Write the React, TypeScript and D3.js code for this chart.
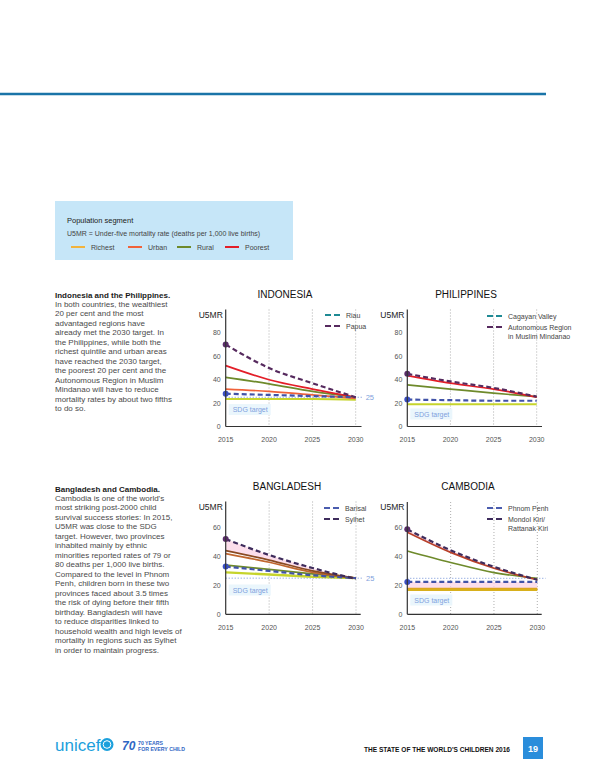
import * as React from 'react';
import * as d3 from 'd3';

const years = [2015, 2020, 2025, 2030];
const sdgTarget = 25;

// Indonesia
const idnPoorest = [52, 40, 32, 25];
const idnRural = [42, 36.5, 30, 25];
const idnUrban = [32, 30, 27, 24];
const idnRichest = [23.5, 23.5, 23.5, 23];
const idnRiau = [28, 27, 26, 25];
const idnPapua = [70, 50, 37, 25];

// Philippines
const phlPoorest = [43.5, 37, 32, 25];
const phlRural = [35.5, 32, 28.5, 25.5];
const phlRichest = [19, 19, 19, 19];
const phlCagayan = [23, 22.5, 22, 22];
const phlArmm = [45, 38.5, 33, 25.5];

// Bangladesh
const bgdPoorest = [44, 37.5, 30, 25];
const bgdUrban = [42, 36, 29, 25];
const bgdRural = [34, 31, 28, 25];
const bgdRichest = [29, 27.5, 26, 25];
const bgdBarisal = [33, 30, 27, 25];
const bgdSylhet = [52, 41, 32, 24.5];

// Cambodia
const khmPoorest = [57, 43, 32, 24];
const khmUrban = [17.6, 17.6, 17.6, 17.6];
const khmRural = [44, 36, 29, 25];
const khmRichest = [17, 17, 17, 17];
const khmPhnomPenh = [22.5, 22.5, 22.5, 22.5];
const khmMondolKiri = [59, 44.5, 33, 24];

const segmentNames = ['Richest', 'Urban', 'Rural', 'Poorest'];

const introIdnPhl = [
  'In both countries, the wealthiest',
  '20 per cent and the most',
  'advantaged regions have',
  'already met the 2030 target. In',
  'the Philippines, while both the',
  'richest quintile and urban areas',
  'have reached the 2030 target,',
  'the poorest 20 per cent and the',
  'Autonomous Region in Muslim',
  'Mindanao will have to reduce',
  'mortality rates by about two fifths',
  'to do so.',
];

const introBgdKhm = [
  "Cambodia is one of the world's",
  'most striking post-2000 child',
  'survival success stories: In 2015,',
  'U5MR was close to the SDG',
  'target. However, two provinces',
  'inhabited mainly by ethnic',
  'minorities reported rates of 79 or',
  '80 deaths per 1,000 live births.',
  'Compared to the level in Phnom',
  'Penh, children born in these two',
  'provinces faced about 3.5 times',
  'the risk of dying before their fifth',
  'birthday. Bangladesh will have',
  'to reduce disparities linked to',
  'household wealth and high levels of',
  'mortality in regions such as Sylhet',
  'in order to maintain progress.',
];

const FONT = "'Liberation Sans', Arial, sans-serif";

const colors = {
  richest: '#c6d42c',
  urban: '#f0623a',
  rural: '#6e8a2b',
  poorest: '#e31e28',
  regionA: '#4153a8',
  regionB: '#562a5e',
};
const legendColors = ['#f2b33d', '#f0623a', '#6e8a2b', '#e31e28'];

interface Series {
  values: number[];
  color: string;
  dashed?: boolean;
  width?: number;
  dot?: boolean;
}

interface Panel {
  title: string;
  titleX: number;
  titleY: number;
  left: number;
  right: number;
  axisEnd: number;
  bottom: number;
  top: number;
  yMax: number;
  yTicks: number[];
  series: Series[];
  band?: [number[], number[]][];
  legendX: number;
  legendY: number;
  legend: { lines: string[]; color: string }[];
  sdgLabelY: number;
  sdgLine: boolean;
  sdgValueLabel: boolean;
}

const panels: Panel[] = [
  {
    title: 'INDONESIA',
    titleX: 285,
    titleY: 298,
    left: 225.7,
    right: 355.7,
    axisEnd: 361.5,
    bottom: 426.5,
    top: 309.5,
    yMax: 100,
    yTicks: [0, 20, 40, 60, 80],
    series: [
      { values: idnRichest, color: colors.richest, width: 2.2 },
      { values: idnUrban, color: colors.urban },
      { values: idnRural, color: colors.rural },
      { values: idnPoorest, color: colors.poorest },
      { values: idnRiau, color: colors.regionA, dashed: true, dot: true },
      { values: idnPapua, color: colors.regionB, dashed: true, dot: true },
    ],
    legendX: 325,
    legendY: 315,
    legend: [
      { lines: ['Riau'], color: '#1f8a94' },
      { lines: ['Papua'], color: colors.regionB },
    ],
    sdgLabelY: 412,
    sdgLine: true,
    sdgValueLabel: true,
  },
  {
    title: 'PHILIPPINES',
    titleX: 466,
    titleY: 298,
    left: 407.3,
    right: 536.7,
    axisEnd: 542,
    bottom: 426.5,
    top: 309.5,
    yMax: 100,
    yTicks: [0, 20, 40, 60, 80],
    series: [
      { values: phlRichest, color: colors.richest, width: 2.2 },
      { values: phlRural, color: colors.rural },
      { values: phlPoorest, color: colors.poorest },
      { values: phlCagayan, color: colors.regionA, dashed: true, dot: true },
      { values: phlArmm, color: colors.regionB, dashed: true, dot: true },
    ],
    legendX: 487,
    legendY: 316,
    legend: [
      { lines: ['Cagayan Valley'], color: '#1f8a94' },
      { lines: ['Autonomous Region', 'in Muslim Mindanao'], color: colors.regionB },
    ],
    sdgLabelY: 416.5,
    sdgLine: false,
    sdgValueLabel: false,
  },
  {
    title: 'BANGLADESH',
    titleX: 287,
    titleY: 490,
    left: 225.7,
    right: 356,
    axisEnd: 360.7,
    bottom: 614.3,
    top: 501.5,
    yMax: 78,
    yTicks: [0, 20, 40, 60],
    series: [
      { values: bgdRichest, color: colors.richest, width: 2.4 },
      { values: bgdRural, color: colors.rural },
      { values: bgdUrban, color: '#c0662e' },
      { values: bgdPoorest, color: '#8a4a22' },
      { values: bgdBarisal, color: colors.regionA, dashed: true, dot: true },
      { values: bgdSylhet, color: '#3e2c5c', dashed: true, dot: true },
    ],
    band: [[bgdSylhet, bgdPoorest]],
    legendX: 324,
    legendY: 508,
    legend: [
      { lines: ['Barisal'], color: '#4a5cae' },
      { lines: ['Sylhet'], color: '#3e2c5c' },
    ],
    sdgLabelY: 592.5,
    sdgLine: true,
    sdgValueLabel: true,
  },
  {
    title: 'CAMBODIA',
    titleX: 468,
    titleY: 490,
    left: 407.3,
    right: 537.3,
    axisEnd: 541.7,
    bottom: 614.3,
    top: 502,
    yMax: 78,
    yTicks: [0, 20, 40, 60],
    series: [
      { values: khmUrban, color: '#e09a1e', width: 2.6 },
      { values: khmRichest, color: '#d8b01c', width: 2.4 },
      { values: khmRural, color: colors.rural },
      { values: khmPoorest, color: '#b8402a' },
      { values: khmPhnomPenh, color: colors.regionA, dashed: true, dot: true },
      { values: khmMondolKiri, color: '#3e2c5c', dashed: true, dot: true },
    ],
    band: [
      [khmMondolKiri, khmPoorest],
      [khmPhnomPenh, khmUrban],
    ],
    legendX: 487,
    legendY: 508,
    legend: [
      { lines: ['Phnom Penh'], color: '#4a5cae' },
      { lines: ['Mondol Kiri/', 'Rattanak Kiri'], color: '#3e2c5c' },
    ],
    sdgLabelY: 602.5,
    sdgLine: true,
    sdgValueLabel: false,
  },
];

const App = () => {
  const ref = React.useRef<SVGSVGElement>(null);

  React.useEffect(() => {
    draw();
  }, []);

  const draw = () => {
    const svg = d3.select(ref.current);
    svg.selectAll('*').remove();
    svg.attr('font-family', FONT);

    svg.append('rect').attr('width', 600).attr('height', 776).attr('fill', '#fff');

    // top rule
    svg
      .append('line')
      .attr('x1', 0)
      .attr('x2', 546)
      .attr('y1', 94)
      .attr('y2', 94)
      .attr('stroke', '#1a74a8')
      .attr('stroke-width', 2.5);

    // key box
    const key = svg.append('g');
    key
      .append('rect')
      .attr('x', 55)
      .attr('y', 201)
      .attr('width', 238)
      .attr('height', 59)
      .attr('fill', '#c6e6f8');
    key
      .append('text')
      .attr('x', 67)
      .attr('y', 223)
      .attr('font-size', 7.5)
      .attr('fill', '#222')
      .text('Population segment');
    key
      .append('text')
      .attr('x', 67)
      .attr('y', 235.5)
      .attr('font-size', 7)
      .attr('fill', '#444')
      .text('U5MR = Under-five mortality rate (deaths per 1,000 live births)');
    const keyX = [71, 128, 177, 225];
    segmentNames.forEach((name, i) => {
      key
        .append('line')
        .attr('x1', keyX[i])
        .attr('x2', keyX[i] + 14)
        .attr('y1', 247)
        .attr('y2', 247)
        .attr('stroke', legendColors[i])
        .attr('stroke-width', 2);
      key
        .append('text')
        .attr('x', keyX[i] + 20)
        .attr('y', 249.5)
        .attr('font-size', 7)
        .attr('fill', '#444')
        .text(name);
    });

    // body copy
    const writeBlock = (title: string, lines: string[], y0: number) => {
      svg
        .append('text')
        .attr('x', 55)
        .attr('y', y0)
        .attr('font-size', 8)
        .attr('font-weight', 'bold')
        .attr('fill', '#1a1a1a')
        .text(title);
      lines.forEach((l, i) => {
        svg
          .append('text')
          .attr('x', 55)
          .attr('y', y0 + 9 + i * 9.5)
          .attr('font-size', 8)
          .attr('fill', '#4a4a4a')
          .text(l);
      });
    };
    writeBlock('Indonesia and the Philippines.', introIdnPhl, 297.5);
    writeBlock('Bangladesh and Cambodia.', introBgdKhm, 491.5);

    panels.forEach((p) => drawPanel(svg, p));

    // footer
    const foot = svg.append('g');
    foot
      .append('text')
      .attr('x', 55)
      .attr('y', 751)
      .attr('font-size', 17)
      .attr('fill', '#1ca0dc')
      .text('unicef');
    foot
      .append('circle')
      .attr('cx', 107)
      .attr('cy', 744.5)
      .attr('r', 6.5)
      .attr('fill', '#1ca0dc');
    foot
      .append('circle')
      .attr('cx', 107)
      .attr('cy', 744.5)
      .attr('r', 3.8)
      .attr('fill', 'none')
      .attr('stroke', '#fff')
      .attr('stroke-width', 1);
    foot
      .append('text')
      .attr('x', 122)
      .attr('y', 750)
      .attr('font-size', 12)
      .attr('font-weight', 'bold')
      .attr('font-style', 'italic')
      .attr('fill', '#2f66c4')
      .text('70');
    foot
      .append('text')
      .attr('x', 138)
      .attr('y', 745)
      .attr('font-size', 5.2)
      .attr('font-weight', 'bold')
      .attr('fill', '#2f66c4')
      .text('70 YEARS');
    foot
      .append('text')
      .attr('x', 138)
      .attr('y', 750.5)
      .attr('font-size', 5.2)
      .attr('font-weight', 'bold')
      .attr('fill', '#2f66c4')
      .text('FOR EVERY CHILD');
    foot
      .append('text')
      .attr('x', 364)
      .attr('y', 751.5)
      .attr('font-size', 7)
      .attr('font-weight', 'bold')
      .attr('fill', '#111')
      .attr('textLength', 146)
      .attr('lengthAdjust', 'spacingAndGlyphs')
      .text("THE STATE OF THE WORLD'S CHILDREN 2016");
    foot
      .append('rect')
      .attr('x', 523)
      .attr('y', 737)
      .attr('width', 20)
      .attr('height', 22)
      .attr('fill', '#2a8ddb');
    foot
      .append('text')
      .attr('x', 533)
      .attr('y', 751.5)
      .attr('text-anchor', 'middle')
      .attr('font-size', 9)
      .attr('font-weight', 'bold')
      .attr('fill', '#fff')
      .text('19');
  };

  const drawPanel = (svg: d3.Selection<SVGSVGElement | null, unknown, null, undefined>, p: Panel) => {
    const g = svg.append('g');
    const x = d3.scaleLinear().domain([2015, 2030]).range([p.left, p.right]);
    const y = d3.scaleLinear().domain([0, p.yMax]).range([p.bottom, p.top]);

    g.append('text')
      .attr('x', p.titleX)
      .attr('y', p.titleY)
      .attr('text-anchor', 'middle')
      .attr('font-size', 10)
      .attr('fill', '#111')
      .text(p.title);

    g.append('text')
      .attr('x', p.left - 27)
      .attr('y', p.top + 8)
      .attr('font-size', 8.5)
      .attr('fill', '#222')
      .text('U5MR');

    // dotted year gridlines
    g.selectAll('line.grid')
      .data(years.slice(1))
      .join('line')
      .attr('x1', (d) => x(d))
      .attr('x2', (d) => x(d))
      .attr('y1', p.top)
      .attr('y2', p.bottom)
      .attr('stroke', '#9a9a9a')
      .attr('stroke-width', 0.8)
      .attr('stroke-dasharray', '1,2');

    // SDG label
    g.append('rect')
      .attr('x', p.left + 3)
      .attr('y', p.sdgLabelY - 8)
      .attr('width', 42)
      .attr('height', 11)
      .attr('fill', '#eaf6fc');
    g.append('text')
      .attr('x', p.left + 7)
      .attr('y', p.sdgLabelY)
      .attr('font-size', 7)
      .attr('fill', '#7f9fdc')
      .text('SDG target');

    // bands
    (p.band || []).forEach(([hi, lo]) => {
      const area = d3
        .area<number>()
        .x((_, i) => x(years[i]))
        .y0((_, i) => y(lo[i]))
        .y1((d) => y(d))
        .curve(d3.curveMonotoneX);
      g.append('path').attr('d', area(hi)).attr('fill', '#fbd3e4').attr('opacity', 0.75);
    });

    if (p.sdgLine) {
      g.append('line')
        .attr('x1', p.left)
        .attr('x2', p.sdgValueLabel ? p.right + 7 : p.axisEnd + 4)
        .attr('y1', y(sdgTarget))
        .attr('y2', y(sdgTarget))
        .attr('stroke', '#6f8fd6')
        .attr('stroke-width', 1)
        .attr('stroke-dasharray', '1,2');
    }
    if (p.sdgValueLabel) {
      g.append('text')
        .attr('x', p.right + 10)
        .attr('y', y(sdgTarget) + 2.5)
        .attr('font-size', 7.5)
        .attr('fill', '#7f9fdc')
        .text(String(sdgTarget));
    }

    const line = d3
      .line<number>()
      .x((_, i) => x(years[i]))
      .y((d) => y(d))
      .curve(d3.curveMonotoneX);

    p.series.forEach((s) => {
      g.append('path')
        .attr('d', line(s.values))
        .attr('fill', 'none')
        .attr('stroke', s.color)
        .attr('stroke-width', s.width ?? (s.dashed ? 2.2 : 1.7))
        .attr('stroke-dasharray', s.dashed ? '5,3' : null);
    });
    p.series
      .filter((s) => s.dot)
      .forEach((s) => {
        g.append('circle')
          .attr('cx', x(years[0]))
          .attr('cy', y(s.values[0]))
          .attr('r', 3)
          .attr('fill', s.color === colors.regionA ? '#3a4fc4' : '#5a2d6a');
      });

    // axes
    g.append('line')
      .attr('x1', p.left)
      .attr('x2', p.left)
      .attr('y1', p.top)
      .attr('y2', p.bottom)
      .attr('stroke', '#333')
      .attr('stroke-width', 1.2);
    g.append('line')
      .attr('x1', p.left)
      .attr('x2', p.axisEnd)
      .attr('y1', p.bottom)
      .attr('y2', p.bottom)
      .attr('stroke', '#333')
      .attr('stroke-width', 1.2);

    g.selectAll('text.yt')
      .data(p.yTicks)
      .join('text')
      .attr('x', p.left - 5)
      .attr('y', (d) => y(d) + 2.5)
      .attr('text-anchor', 'end')
      .attr('font-size', 7)
      .attr('fill', '#555')
      .text((d) => String(d));
    g.selectAll('text.xt')
      .data(years)
      .join('text')
      .attr('x', (d) => x(d))
      .attr('y', p.bottom + 15.5)
      .attr('text-anchor', 'middle')
      .attr('font-size', 7)
      .attr('fill', '#555')
      .text((d) => String(d));

    // in-chart legend
    p.legend.forEach((item, i) => {
      const ly = p.legendY + i * 11;
      g.append('line')
        .attr('x1', p.legendX)
        .attr('x2', p.legendX + 15)
        .attr('y1', ly)
        .attr('y2', ly)
        .attr('stroke', item.color)
        .attr('stroke-width', 2)
        .attr('stroke-dasharray', '6,3');
      item.lines.forEach((t, j) => {
        g.append('text')
          .attr('x', p.legendX + 21)
          .attr('y', ly + 2.5 + j * 9.5)
          .attr('font-size', 7)
          .attr('fill', '#444')
          .text(t);
      });
    });
  };

  return (
    <div style={{ position: 'absolute', left: 0, top: 0 }}>
      <svg ref={ref} width={600} height={776} style={{ display: 'block' }} />
    </div>
  );
};

export default App;
